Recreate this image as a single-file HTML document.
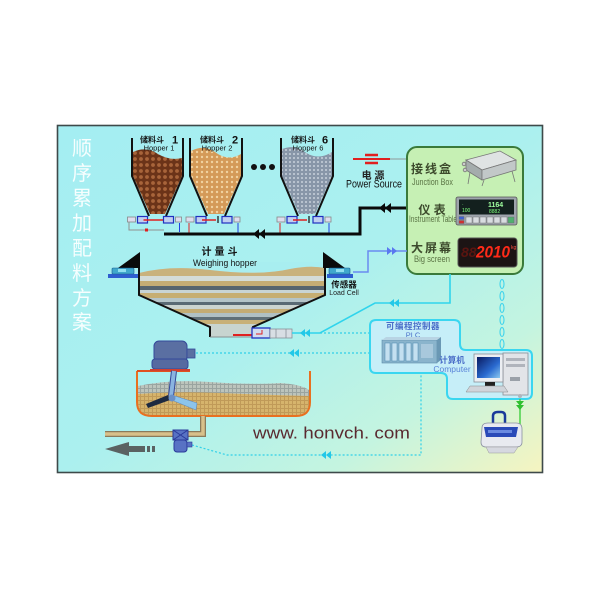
<!DOCTYPE html>
<html><head><meta charset="utf-8"><style>
html,body{margin:0;padding:0;background:#fff;}
svg{display:block}
text{font-family:"Liberation Sans","Noto Sans CJK SC",sans-serif;}
.cjk{font-family:"Liberation Sans","Noto Sans CJK SC",sans-serif;font-weight:bold;}
.ser{font-family:"Liberation Serif","Noto Serif CJK SC",serif;}
.nar{font-family:"Liberation Sans Narrow","Liberation Sans",sans-serif;}
</style></head><body>
<svg width="600" height="600" viewBox="0 0 600 600" xmlns="http://www.w3.org/2000/svg">
<defs>
<linearGradient id="bg" x1="0" y1="0" x2="1" y2="1">
 <stop offset="0" stop-color="#a4eef2"/>
 <stop offset="0.5" stop-color="#abf0ef"/>
 <stop offset="0.78" stop-color="#c4f4e0"/>
 <stop offset="1" stop-color="#f6f4c0"/>
</linearGradient>
<pattern id="brown" width="6" height="6" patternUnits="userSpaceOnUse">
 <rect width="6" height="6" fill="#6b3318"/>
 <circle cx="3" cy="3" r="1.9" fill="#a8643a"/>
</pattern>
<pattern id="tan" width="5" height="5" patternUnits="userSpaceOnUse">
 <rect width="5" height="5" fill="#d49a58"/>
 <circle cx="2" cy="2" r="1.2" fill="#f0d2a0"/>
</pattern>
<pattern id="grey" width="4" height="4" patternUnits="userSpaceOnUse">
 <rect width="4" height="4" fill="#8896a8"/>
 <circle cx="2" cy="2" r="1" fill="#c8d0da"/>
</pattern>
<pattern id="sand" width="4" height="4" patternUnits="userSpaceOnUse">
 <rect width="4" height="4" fill="#d6b46c"/>
 <rect width="4" height="1" fill="#c09a58"/>
 <rect width="1" height="4" fill="#c09a58"/>
</pattern>
<pattern id="sandg" width="4" height="4" patternUnits="userSpaceOnUse">
 <rect width="4" height="4" fill="#bcc4bc"/>
 <rect width="4" height="1" fill="#9aa4a0"/>
 <rect width="1" height="4" fill="#9aa4a0"/>
</pattern>
<linearGradient id="scr" x1="0" y1="0" x2="1" y2="1">
 <stop offset="0" stop-color="#0a1a60"/>
 <stop offset="0.6" stop-color="#2a6ad0"/>
 <stop offset="1" stop-color="#8ac8f0"/>
</linearGradient>
<clipPath id="wh"><polygon points="139,262 325,262 325,295 253,327 253,337 210,337 210,327 139,295"/></clipPath>
<clipPath id="tk"><path d="M138,371 L138,402 Q138,415 152,415 L296,415 Q309,415 309,402 L309,371 Z"/></clipPath>
</defs>

<!-- frame -->
<rect x="57.5" y="125.5" width="485" height="347" fill="url(#bg)" stroke="#3e4a4a" stroke-width="1.6"/>

<!-- vertical title -->
<g class="ser" fill="#ffffff" fill-opacity="0.9" font-size="20" text-anchor="middle">
<text x="82" y="155">顺</text>
<text x="82" y="180">序</text>
<text x="82" y="205">累</text>
<text x="82" y="230">加</text>
<text x="82" y="255">配</text>
<text x="82" y="280">料</text>
<text x="82" y="305">方</text>
<text x="82" y="329">案</text>
</g>

<!-- hoppers material -->
<path d="M133,152 Q146,146 158,154 Q170,161 182,158 L182,176 L165,214 L150,214 L133,176 Z" fill="url(#brown)"/>
<path d="M191,151 Q204,144 215,152 Q228,162 241,154 L241,176 L224,214 L208,214 L191,176 Z" fill="url(#tan)"/>
<path d="M282,149 Q295,144 305,152 Q318,161 332,152 L332,176 L315,214 L299,214 L282,176 Z" fill="url(#grey)"/>
<g fill="none" stroke="#111" stroke-width="2">
<path d="M132,138 L132,176 L149,216 M183,138 L183,176 L166,216"/>
<path d="M190,138 L190,176 L207,216 M242,138 L242,176 L225,216"/>
<path d="M281,138 L281,176 L298,216 M333,138 L333,176 L316,216"/>
</g>
<!-- hopper labels -->
<g fill="#111">
<text x="140" y="142.5" font-size="8" class="cjk">储料斗</text><text x="172" y="143.5" font-size="11" font-weight="bold">1</text>
<text x="159" y="150.5" font-size="7.5" text-anchor="middle">Hopper 1</text>
<text x="200" y="142.5" font-size="8" class="cjk">储料斗</text><text x="232" y="143.5" font-size="11" font-weight="bold">2</text>
<text x="217" y="150.5" font-size="7.5" text-anchor="middle">Hopper 2</text>
<text x="291" y="142.5" font-size="8" class="cjk">储料斗</text><text x="322" y="143.5" font-size="11" font-weight="bold">6</text>
<text x="308" y="150.5" font-size="7.5" text-anchor="middle">Hopper 6</text>
</g>
<circle cx="254" cy="167" r="3" fill="#111"/>
<circle cx="263" cy="167" r="3" fill="#111"/>
<circle cx="272" cy="167" r="3" fill="#111"/>

<!-- gates -->
<g id="gates">
<g transform="translate(157.5,0)">
 <rect x="-30" y="217" width="8" height="5" fill="#dde" stroke="#888" stroke-width="0.8"/>
 <rect x="-20" y="216.5" width="10" height="6.5" fill="#c0d0f0" stroke="#2030c0" stroke-width="1.2"/>
 <line x1="-14" y1="220" x2="8" y2="220" stroke="#e02020" stroke-width="1.5"/>
 <rect x="6" y="216.5" width="10" height="6.5" fill="#c0d0f0" stroke="#2030c0" stroke-width="1.2"/>
 <rect x="18" y="217" width="6" height="5" fill="#dde" stroke="#888" stroke-width="0.8"/>
 <line x1="22" y1="223" x2="22" y2="232" stroke="#2040e0" stroke-width="1"/>
</g>
<g transform="translate(216,0)">
 <rect x="-30" y="217" width="8" height="5" fill="#dde" stroke="#888" stroke-width="0.8"/>
 <rect x="-20" y="216.5" width="10" height="6.5" fill="#c0d0f0" stroke="#2030c0" stroke-width="1.2"/>
 <line x1="-14" y1="220" x2="0" y2="220" stroke="#e02020" stroke-width="1.5"/>
 <line x1="2" y1="216" x2="2" y2="223" stroke="#111" stroke-width="1.2"/>
 <rect x="6" y="216.5" width="10" height="6.5" fill="#c0d0f0" stroke="#2030c0" stroke-width="1.2"/>
 <rect x="18" y="217" width="6" height="5" fill="#dde" stroke="#888" stroke-width="0.8"/>
 <line x1="-27" y1="223" x2="-27" y2="233" stroke="#e02020" stroke-width="1"/>
 <line x1="22" y1="223" x2="22" y2="233" stroke="#2040e0" stroke-width="1"/>
</g>
<g transform="translate(307,0)">
 <rect x="-30" y="217" width="8" height="5" fill="#dde" stroke="#888" stroke-width="0.8"/>
 <rect x="-20" y="216.5" width="10" height="6.5" fill="#c0d0f0" stroke="#2030c0" stroke-width="1.2"/>
 <line x1="-14" y1="220" x2="0" y2="220" stroke="#e02020" stroke-width="1.5"/>
 <line x1="2" y1="216" x2="2" y2="223" stroke="#111" stroke-width="1.2"/>
 <rect x="6" y="216.5" width="10" height="6.5" fill="#c0d0f0" stroke="#2030c0" stroke-width="1.2"/>
 <rect x="18" y="217" width="6" height="5" fill="#dde" stroke="#888" stroke-width="0.8"/>
 <line x1="-27" y1="223" x2="-27" y2="233" stroke="#e02020" stroke-width="1"/>
 <line x1="22" y1="223" x2="22" y2="233" stroke="#2040e0" stroke-width="1"/>
</g>
</g>
<path d="M129,222 L129,230 L164,230" fill="none" stroke="#909090" stroke-width="1"/>
<rect x="145" y="228.5" width="3" height="3" fill="#e02020"/>

<!-- black signal line -->
<path d="M164,234 L360,234 L360,208 L407,208" fill="none" stroke="#0a0a0a" stroke-width="3"/>
<g fill="#0a0a0a">
<polygon points="253,234 259,229 259,239"/><polygon points="259,234 265,229 265,239"/>
<polygon points="379,208 385,203 385,213"/><polygon points="385,208 391,203 391,213"/>
</g>

<!-- power source -->
<line x1="353" y1="159" x2="390" y2="159" stroke="#e02020" stroke-width="2"/>
<line x1="365" y1="155" x2="378" y2="155" stroke="#e02020" stroke-width="2.5"/>
<line x1="365" y1="163" x2="378" y2="163" stroke="#e02020" stroke-width="2.5"/>
<line x1="390" y1="159" x2="407" y2="159" stroke="#909898" stroke-width="1"/>
<text x="373" y="179" font-size="10" class="cjk" text-anchor="middle" fill="#222">电 源</text>
<text x="346" y="187.5" font-size="11" fill="#111" textLength="56" lengthAdjust="spacingAndGlyphs">Power Source</text>

<!-- green panel -->
<rect x="407" y="147" width="116" height="127" rx="10" fill="#c6f0b4" stroke="#3a7a3a" stroke-width="2"/>
<g class="cjk" fill="#3c4a2c" font-size="12" text-anchor="middle">
<text x="432" y="173" letter-spacing="2">接线盒</text>
<text x="432" y="214">仪  表</text>
<text x="432" y="252" letter-spacing="2">大屏幕</text>
</g>
<g class="nar" fill="#5a7444" font-size="9.5">
<text x="412" y="185" textLength="41" lengthAdjust="spacingAndGlyphs">Junction Box</text>
<text x="409" y="222" textLength="48" lengthAdjust="spacingAndGlyphs">Instrument Table</text>
<text x="414" y="262" textLength="36" lengthAdjust="spacingAndGlyphs">Big screen</text>
</g>
<!-- junction box -->
<g stroke="#777" stroke-width="0.8">
<polygon points="466,160 500,151 516,160 482,170" fill="#dfe3e3"/>
<polygon points="466,160 482,170 482,180 466,170" fill="#a4acac"/>
<polygon points="482,170 516,160 516,170 482,180" fill="#c2c8c8"/>
<line x1="470" y1="172" x2="468" y2="184"/>
<line x1="512" y1="171" x2="515" y2="182"/>
<line x1="484" y1="180" x2="482" y2="186"/>
<circle cx="464" cy="164" r="1.8" fill="#ccc"/>
<circle cx="465" cy="170" r="1.8" fill="#ccc"/>
</g>
<!-- instrument -->
<rect x="456" y="197" width="61" height="28" rx="2" fill="#9ea4ac" stroke="#555" stroke-width="0.8"/>
<rect x="459" y="199.5" width="55" height="15" fill="#13201e"/>
<text x="462" y="205" font-size="4" fill="#7fff7f">-</text>
<text x="462" y="212" font-size="5" fill="#7fff7f">100</text>
<text x="488" y="207" font-size="7" font-weight="bold" fill="#9fff9f">1164</text>
<text x="489" y="213" font-size="5" fill="#7fff7f">8882</text>
<g fill="#d8dce0" stroke="#666" stroke-width="0.4">
<rect x="459" y="216.5" width="5" height="3" fill="#4060d0"/><rect x="459" y="220.5" width="5" height="3" fill="#d03030"/>
<rect x="466" y="217" width="6" height="6"/><rect x="473" y="217" width="6" height="6"/><rect x="480" y="217" width="6" height="6"/><rect x="487" y="217" width="6" height="6"/><rect x="494" y="217" width="6" height="6"/><rect x="501" y="217" width="6" height="6"/><rect x="508" y="217" width="6" height="6" fill="#50b070"/>
</g>
<!-- big screen -->
<rect x="458" y="238" width="59" height="29" rx="3" fill="#1c1414" stroke="#555" stroke-width="1"/>
<text x="461" y="257" font-size="14" font-weight="bold" font-style="italic" fill="#5a1410">88</text>
<text x="476" y="257.5" font-size="17" font-weight="bold" font-style="italic" fill="#ff2a18" textLength="34" lengthAdjust="spacingAndGlyphs">2010</text>
<text x="511" y="249" font-size="5" fill="#ff5040">kg</text>

<!-- blue line load cell to panel -->
<path d="M353,272 L368,272 L368,251 L407,251" fill="none" stroke="#6a8af0" stroke-width="1.5"/>
<g fill="#5a78f0"><polygon points="392,251 387,247 387,255"/><polygon points="397,251 392,247 392,255"/></g>

<!-- weighing hopper -->
<g clip-path="url(#wh)">
<rect x="139" y="262" width="186" height="80" fill="#c8d4d0"/>
<rect x="139" y="276" width="186" height="5" fill="#d4dcd8"/>
<rect x="139" y="281" width="186" height="5" fill="#c4ac74"/>
<rect x="139" y="286" width="186" height="4" fill="#56646e"/>
<rect x="139" y="290" width="186" height="3" fill="#c8d4d4"/>
<rect x="139" y="293" width="186" height="5" fill="#c6ae72"/>
<rect x="139" y="298" width="186" height="4" fill="#b4c4c8"/>
<rect x="139" y="302" width="186" height="3" fill="#5a6a74"/>
<rect x="139" y="305" width="186" height="4" fill="#ccd4d0"/>
<rect x="139" y="309" width="186" height="4" fill="#c4ac74"/>
<rect x="139" y="313" width="186" height="4" fill="#b0c0c4"/>
<rect x="139" y="317" width="186" height="3" fill="#607078"/>
<rect x="139" y="320" width="186" height="4" fill="#c8b078"/>
<path d="M139,262 L325,262 L325,268 Q310,265 290,269 Q260,276 210,270 Q170,265 139,273 Z" fill="#a8eef0"/>
<path d="M139,273 Q170,265 210,270 Q260,276 290,269 Q310,265 325,268 L325,276 L139,276 Z" fill="#c9b27c"/>
</g>
<path d="M139,268 L139,295 L210,327 L210,337 M325,268 L325,295 L253,327 L253,337" fill="none" stroke="#111" stroke-width="2"/>
<line x1="210" y1="337" x2="253" y2="337" stroke="#8a9090" stroke-width="1"/>
<polygon points="140,252 140,268 118,268" fill="#0a0a0a"/>
<polygon points="323,252 323,268 345,268" fill="#0a0a0a"/>
<!-- load cells -->
<rect x="108" y="274" width="30" height="4" fill="#2e5ed0"/>
<rect x="112" y="268" width="22" height="6" rx="1" fill="#40a8cc" stroke="#1a5a90" stroke-width="0.6"/>
<rect x="118" y="269" width="8" height="3" fill="#90e0f0"/>
<rect x="327" y="274" width="26" height="4" fill="#2e5ed0"/>
<rect x="329" y="268" width="21" height="6" rx="1" fill="#40a8cc" stroke="#1a5a90" stroke-width="0.6"/>
<rect x="336" y="269" width="8" height="3" fill="#90e0f0"/>
<text x="221" y="255" font-size="10" class="cjk" text-anchor="middle" fill="#111" letter-spacing="3">计量斗</text>
<text x="225" y="266" font-size="9.5" text-anchor="middle" fill="#111" textLength="64" lengthAdjust="spacingAndGlyphs">Weighing hopper</text>
<text x="344" y="287.5" font-size="8.5" class="cjk" text-anchor="middle" fill="#111">传感器</text>
<text x="344" y="295" font-size="7" text-anchor="middle" fill="#222">Load Cell</text>

<!-- outlet valve -->
<line x1="233" y1="335" x2="253" y2="335" stroke="#e02020" stroke-width="2"/>
<rect x="252" y="328" width="18" height="10" fill="#d0dcf0" stroke="#2030c0" stroke-width="1.3"/>
<path d="M256,334 L262,334 L262,330" fill="none" stroke="#e02020" stroke-width="1"/>
<rect x="270" y="329" width="22" height="9" fill="#d8dee4" stroke="#8a9098" stroke-width="0.8"/>
<line x1="276" y1="329" x2="276" y2="338" stroke="#8a9098" stroke-width="0.8"/>
<line x1="286" y1="329" x2="286" y2="338" stroke="#8a9098" stroke-width="0.8"/>

<!-- cyan solid line -->
<path d="M292,333 L320,333 L375,303 L450,303 L450,274" fill="none" stroke="#30d4ec" stroke-width="1.6"/>
<g fill="#22c8e8">
<polygon points="300,333 305,329 305,337"/><polygon points="305,333 310,329 310,337"/>
<polygon points="389,303 394,299 394,307"/><polygon points="394,303 399,299 399,307"/>
</g>
<!-- dotted lines -->
<g fill="none" stroke="#30d0e8" stroke-width="1.2" stroke-dasharray="2,2">
<line x1="320" y1="333" x2="370" y2="333"/>
<line x1="196" y1="353" x2="370" y2="353"/>
<path d="M192,445 L227,455 L421,455 L421,373"/>
</g>
<g fill="#22c8e8">
<polygon points="289,353 294,349 294,357"/><polygon points="294,353 299,349 299,357"/>
<polygon points="321,455 326,451 326,459"/><polygon points="326,455 331,451 331,459"/>
</g>
<!-- chain ovals -->
<g fill="none" stroke="#40d4ec" stroke-width="1.1">
<ellipse cx="502" cy="284" rx="2" ry="4.5"/>
<ellipse cx="502" cy="296" rx="2" ry="4.5"/>
<ellipse cx="502" cy="308" rx="2" ry="4.5"/>
<ellipse cx="502" cy="320" rx="2" ry="4.5"/>
<ellipse cx="502" cy="332" rx="2" ry="4.5"/>
<ellipse cx="502" cy="344" rx="2" ry="4.5"/>
</g>

<!-- PLC / computer box -->
<path d="M376,320 L454,320 Q460,320 460,326 L460,344 Q460,350 466,350 L526,350 Q532,350 532,356 L532,393 Q532,399 526,399 L453,399 Q447,399 447,393 L447,379 Q447,373 441,373 L376,373 Q370,373 370,367 L370,326 Q370,320 376,320 Z" fill="#c6eef8" stroke="#3ad6f0" stroke-width="2"/>
<text x="413" y="329" font-size="8.5" class="cjk" text-anchor="middle" fill="#4a6ec8" letter-spacing="0.5">可编程控制器</text>
<text x="413" y="337.5" font-size="7.5" text-anchor="middle" fill="#4a6ec8">PLC</text>
<!-- PLC device -->
<rect x="382" y="340" width="55" height="23" fill="#8ab4cc" stroke="#5a8aa8" stroke-width="0.6"/>
<polygon points="382,340 386,337 441,337 437,340" fill="#b8d4e4"/>
<polygon points="437,340 441,337 441,360 437,363" fill="#6a98b4"/>
<g fill="#c4e0f0" stroke="#4a88b0" stroke-width="0.5">
<rect x="385" y="343" width="5" height="18"/><rect x="392" y="343" width="5" height="18"/><rect x="399" y="343" width="5" height="18"/><rect x="406" y="343" width="5" height="18"/><rect x="413" y="343" width="5" height="18"/>
</g>
<rect x="421" y="344" width="12" height="14" fill="#a8c8dc"/>
<text x="452" y="363" font-size="8.5" class="cjk" text-anchor="middle" fill="#4a6ec8">计算机</text>
<text x="452" y="372" font-size="8.5" text-anchor="middle" fill="#5a84d8">Computer</text>
<!-- computer -->
<rect x="503" y="353" width="25" height="42" fill="#e2e4e8" stroke="#8a8e96" stroke-width="0.8"/>
<rect x="506" y="358" width="19" height="3" fill="#b0b4bc"/>
<rect x="506" y="364" width="19" height="3" fill="#b0b4bc"/>
<rect x="510" y="377" width="10" height="4" fill="#9aa0a8"/>
<rect x="474" y="354" width="29" height="28" fill="#eceef2" stroke="#8a8e96" stroke-width="0.8"/>
<rect x="477" y="357" width="23" height="21" fill="url(#scr)"/>
<rect x="485" y="382" width="10" height="4" fill="#222"/>
<polygon points="470,386 504,386 508,392 466,392" fill="#d0d4da" stroke="#888" stroke-width="0.5"/>
<circle cx="520" cy="396" r="2" fill="#b0b4bc"/>
<!-- printer link -->
<line x1="520" y1="399" x2="520" y2="424" stroke="#40d040" stroke-width="1.4"/>
<g fill="#30c030"><polygon points="520,406 516,401 524,401"/><polygon points="520,410 516,405 524,405"/></g>
<!-- printer -->
<path d="M493,425 L493,416 Q493,412 498,412 L501,412 Q505,412 505,416 L505,425" fill="none" stroke="#1a3a9a" stroke-width="2.5"/>
<path d="M482,428 Q482,423 488,423 L516,423 Q522,423 522,429 L522,442 Q522,447 516,447 L486,447 Q481,447 481,442 Z" fill="#e8eaf0" stroke="#8a90a0" stroke-width="0.8"/>
<path d="M484,427 L518,427 L516,437 L486,437 Z" fill="#2a4ab8"/>
<rect x="488" y="430" width="24" height="3" fill="#6a8ae0"/>
<polygon points="486,447 518,447 514,453 489,453" fill="#d6d8e0" stroke="#999" stroke-width="0.5"/>

<!-- www text -->
<text x="253" y="438.5" font-size="17" fill="#5a2a30" textLength="157" lengthAdjust="spacingAndGlyphs">www. honvch. com</text>

<!-- mixer tank -->
<g clip-path="url(#tk)">
<path d="M138,386 Q170,379 210,382 Q250,385 280,383 Q300,384 309,390 L309,420 L138,420 Z" fill="url(#sandg)"/>
<path d="M138,394 Q180,391 220,393 Q270,395 309,396 L309,420 L138,420 Z" fill="url(#sand)"/>
</g>
<path d="M137,371 L137,402 Q137,416 152,416 L296,416 Q310,416 310,402 L310,371" fill="none" stroke="#e87020" stroke-width="2"/>
<line x1="137" y1="371" x2="190" y2="371" stroke="#e05020" stroke-width="2"/>
<!-- pipe -->
<path d="M203,416 L203,434 L105,434" fill="none" stroke="#8a7a5a" stroke-width="6"/>
<path d="M203,416 L203,434 L105,434" fill="none" stroke="#d8c08a" stroke-width="3.5"/>
<!-- motor -->
<rect x="154" y="341" width="33" height="21" rx="5" fill="#5a6fa2" stroke="#34489a" stroke-width="1"/>
<rect x="152" y="359" width="36" height="10" rx="3" fill="#566aa0" stroke="#34489a" stroke-width="1"/>
<rect x="187" y="349" width="8" height="9" fill="#5a6fa2" stroke="#34489a" stroke-width="0.8"/>
<line x1="150" y1="370" x2="190" y2="370" stroke="#d04030" stroke-width="2"/>
<!-- shaft and blades -->
<line x1="174" y1="371" x2="171" y2="396" stroke="#34489a" stroke-width="6"/>
<line x1="174" y1="371" x2="171" y2="396" stroke="#8ab4e0" stroke-width="4"/>
<polygon points="146,404 168,395 170,400 148,408" fill="#1e2a40"/>
<polygon points="175,396 197,403 196,410 174,401" fill="#8cc4ec" stroke="#5a88c0" stroke-width="0.5"/>
<circle cx="172" cy="398" r="3.5" fill="#6a90c8"/>
<!-- valve -->
<rect x="173" y="430" width="15" height="10" fill="#5872c4" stroke="#2a3a9a" stroke-width="1"/>
<path d="M173,430 L188,440 M188,430 L173,440" stroke="#2a3a9a" stroke-width="1"/>
<rect x="174" y="440" width="13" height="12" rx="3" fill="#5872c4" stroke="#2a3a9a" stroke-width="1"/>
<rect x="187" y="442" width="5" height="5" fill="#5872c4" stroke="#2a3a9a" stroke-width="0.6"/>
<!-- exit arrow -->
<polygon points="105,449 129,442 129,446 145,446 145,452 129,452 129,456" fill="#5a6262"/>
<rect x="147" y="446" width="3" height="6" fill="#5a6262"/>
<rect x="152" y="446" width="3" height="6" fill="#5a6262"/>
</svg>
</body></html>
